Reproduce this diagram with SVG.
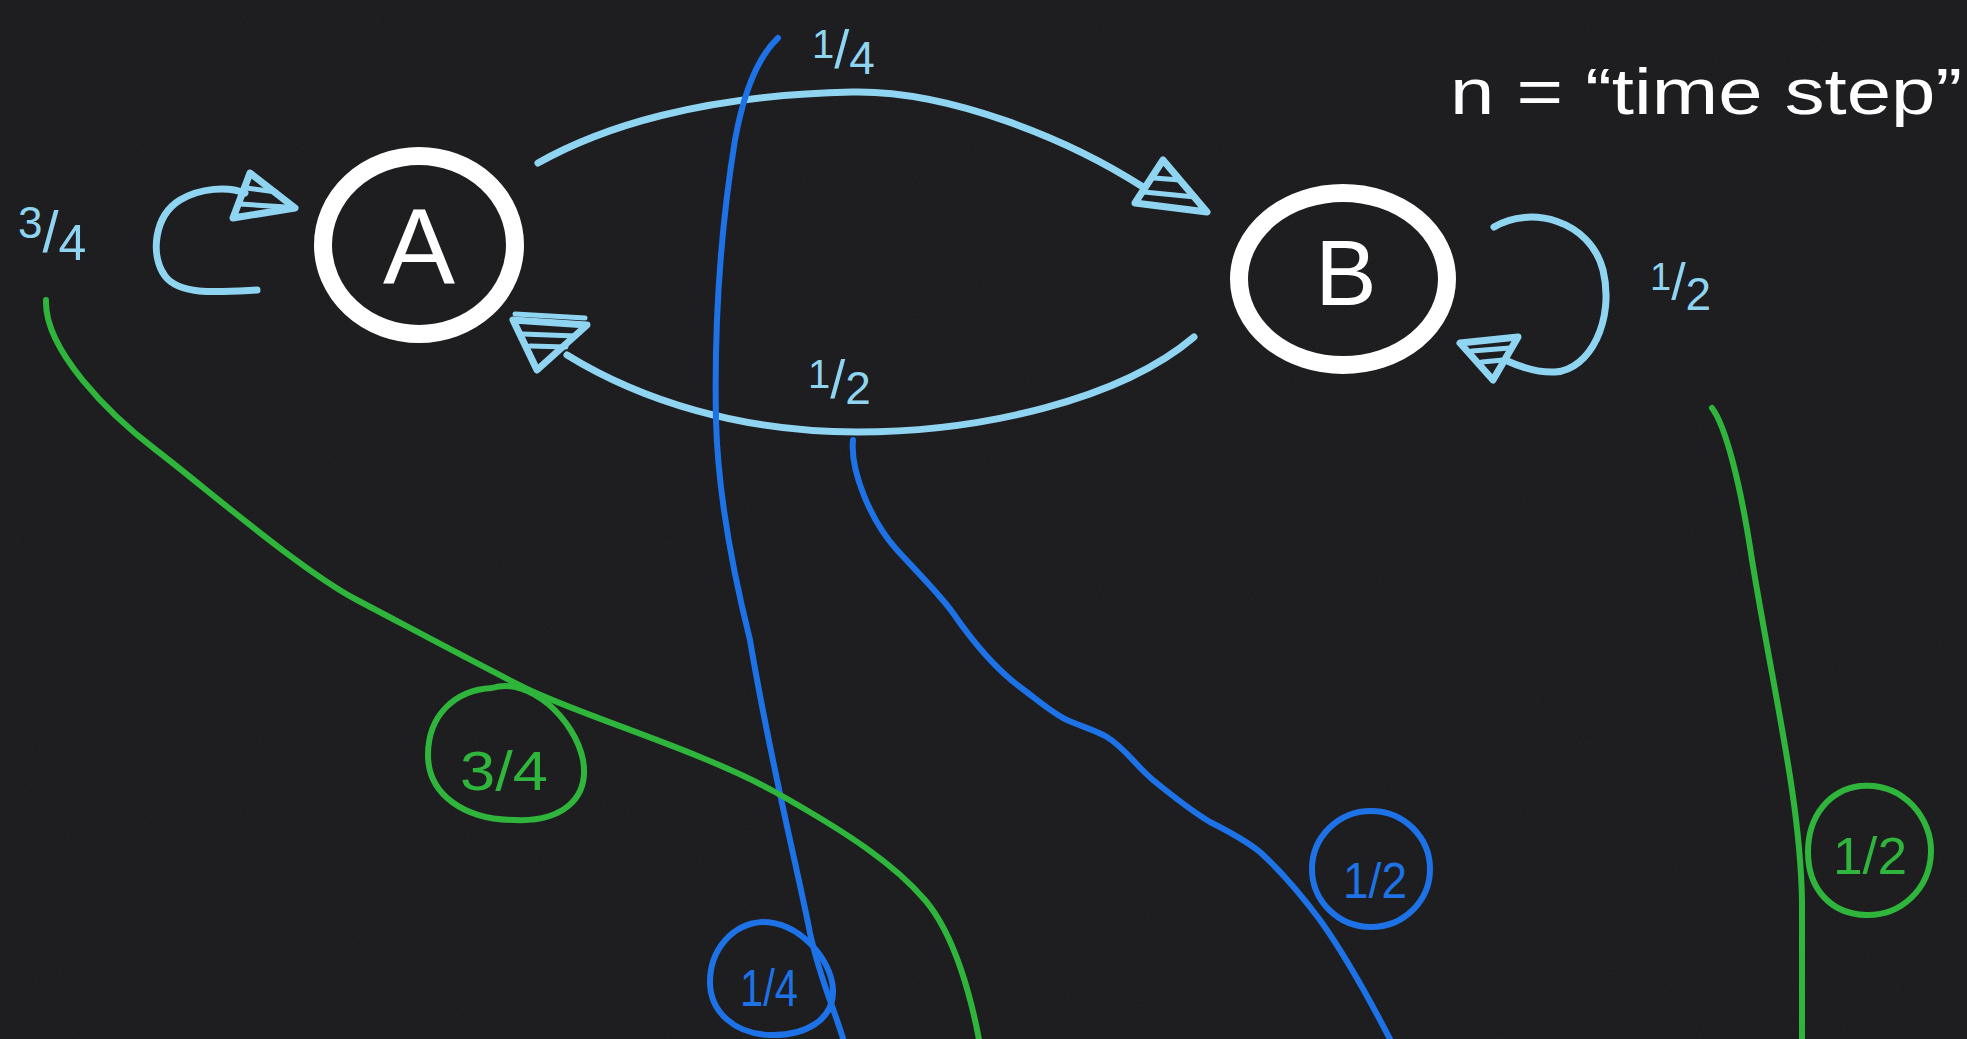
<svg xmlns="http://www.w3.org/2000/svg" width="1967" height="1039" viewBox="0 0 1967 1039">
<defs>
<style>
.lb{stroke:#8fd5f2;stroke-width:7;fill:none;stroke-linecap:round;stroke-linejoin:round}
.lbh{stroke:#8fd5f2;stroke-width:5;fill:none;stroke-linecap:round}
.bl{stroke:#1c72e6;stroke-width:6;fill:none;stroke-linecap:round;stroke-linejoin:round}
.gr{stroke:#2fb43c;stroke-width:6;fill:none;stroke-linecap:round;stroke-linejoin:round}
.node{stroke:#ffffff;stroke-width:18;fill:none}
.t{font-family:"Liberation Sans",Arial,sans-serif}
.tw{fill:#ffffff}
.tl{fill:#8fd5f2}
.tb{fill:#1c72e6}
.tg{fill:#2fb43c}
</style>
<filter id="noise" x="0" y="0" width="100%" height="100%">
<feTurbulence type="fractalNoise" baseFrequency="0.9" numOctaves="2" seed="3"/>
<feColorMatrix type="matrix" values="0 0 0 0 0.3  0 0 0 0 0.3  0 0 0 0 0.3  0 0 0 0.35 0"/>
</filter>
</defs>
<rect width="1967" height="1039" fill="#1a1a1c"/>
<rect width="1967" height="1039" filter="url(#noise)" opacity="0.2"/>

<g id="node-A">
<ellipse class="node" cx="419" cy="245" rx="96" ry="89"/>
<text class="t tw" x="419" y="284" font-size="108" text-anchor="middle">A</text>
</g>

<g id="node-B">
<ellipse class="node" cx="1343" cy="279" rx="104" ry="86"/>
<text class="t tw" x="1346" y="305" font-size="92" text-anchor="middle">B</text>
</g>

<g id="connectors">
<!-- A self loop -->
<path class="lb" d="M257,290 C220,292 180,296 165,276 C150,255 154,216 180,200 C200,188 228,186 245,193"/>
<path class="lb" d="M250,173 L295,208 L233,218 Z"/>
<path class="lbh" d="M246,188 L276,192 M240,204 L286,207"/>
<!-- A to B -->
<path class="lb" d="M538,163 C600,128 700,95 852,92 C950,90 1070,140 1143,187"/>
<path class="lb" d="M1163,160 L1207,212 L1135,203 Z"/>
<path class="lbh" d="M1154,178 L1180,180 M1144,192 L1195,197"/>
<!-- B to A -->
<path class="lb" d="M1194,337 C1120,400 980,432 857,432 C740,432 640,400 567,355"/>
<path class="lb" d="M513,320 L587,325 L537,370 Z"/>
<path class="lbh" d="M515,314 L585,318 M522,334 L576,336 M530,346 L566,347"/>
<!-- B self loop -->
<path class="lb" d="M1494,227 C1530,205 1590,220 1603,270 C1615,320 1590,370 1555,372 C1535,373 1518,366 1505,360"/>
<path class="lb" d="M1460,343 L1518,337 L1493,380 Z"/>
<path class="lbh" d="M1472,351 L1510,348 M1482,362 L1503,360"/>

<!-- blue transitions -->
<path class="bl" d="M778,38 C760,55 745,85 735,140 C722,220 714,320 716,420 C718,500 735,580 750,640 C770,760 800,880 810,933 C820,980 835,1010 845,1045"/>
<path class="bl" d="M853,440 C850,470 870,520 897,550 C920,575 940,595 953,613 C975,645 1000,672 1020,687 C1040,702 1055,715 1067,720 C1085,728 1095,730 1107,737 C1125,748 1135,765 1153,780 C1175,798 1190,810 1210,822 C1230,832 1245,840 1260,852 C1285,875 1305,900 1320,920 C1345,955 1370,1000 1393,1045"/>

<!-- green transitions -->
<path class="gr" d="M46,300 C44,350 110,415 156,450 C202,485 300,570 357,600 C414,630 470,660 523,687 C576,714 700,750 775,792 C850,834 895,865 925,900 C955,935 972,1000 980,1045"/>
<path class="gr" d="M1712,408 C1725,425 1740,480 1752,560 C1775,700 1800,800 1802,900 L1802,1045"/>
</g>

<g id="circled-labels">
<path class="gr" d="M492,688 C530,676 575,720 583,760 C590,800 560,822 515,820 C465,820 428,795 428,755 C428,715 455,690 492,688 Z"/>
<text class="t tg" x="460" y="790" font-size="56" textLength="88" lengthAdjust="spacingAndGlyphs">3/4</text>
<path class="bl" d="M762,922 C800,922 832,960 833,990 C834,1020 805,1036 770,1035 C735,1034 710,1012 710,982 C710,950 732,924 762,922 Z"/>
<text class="t tb" x="740" y="1006" font-size="52" textLength="58" lengthAdjust="spacingAndGlyphs">1/4</text>
<ellipse class="bl" cx="1371" cy="869" rx="59" ry="58"/>
<text class="t tb" x="1343" y="898" font-size="50" textLength="64" lengthAdjust="spacingAndGlyphs">1/2</text>
<path class="gr" d="M1860,786 C1905,782 1932,820 1931,852 C1930,890 1900,916 1866,915 C1830,914 1808,888 1808,852 C1808,815 1830,790 1860,786 Z"/>
<text class="t tg" x="1833" y="874" font-size="52" textLength="74" lengthAdjust="spacingAndGlyphs">1/2</text>
</g>

<g id="labels">
<text class="t tl" x="18" y="238" font-size="44">3<tspan font-size="58" dy="14">/</tspan><tspan font-size="50" dy="8">4</tspan></text>
<text class="t tl" x="812" y="58" font-size="40">1<tspan font-size="54" dy="10">/</tspan><tspan font-size="46" dy="6">4</tspan></text>
<text class="t tl" x="808" y="388" font-size="40">1<tspan font-size="54" dy="10">/</tspan><tspan font-size="46" dy="6">2</tspan></text>
<text class="t tl" x="1650" y="290" font-size="38">1<tspan font-size="52" dy="10">/</tspan><tspan font-size="46" dy="10">2</tspan></text>
<text class="t tw" x="1450" y="114" font-size="64" textLength="512" lengthAdjust="spacingAndGlyphs">n = “time step”</text>
</g>
</svg>
